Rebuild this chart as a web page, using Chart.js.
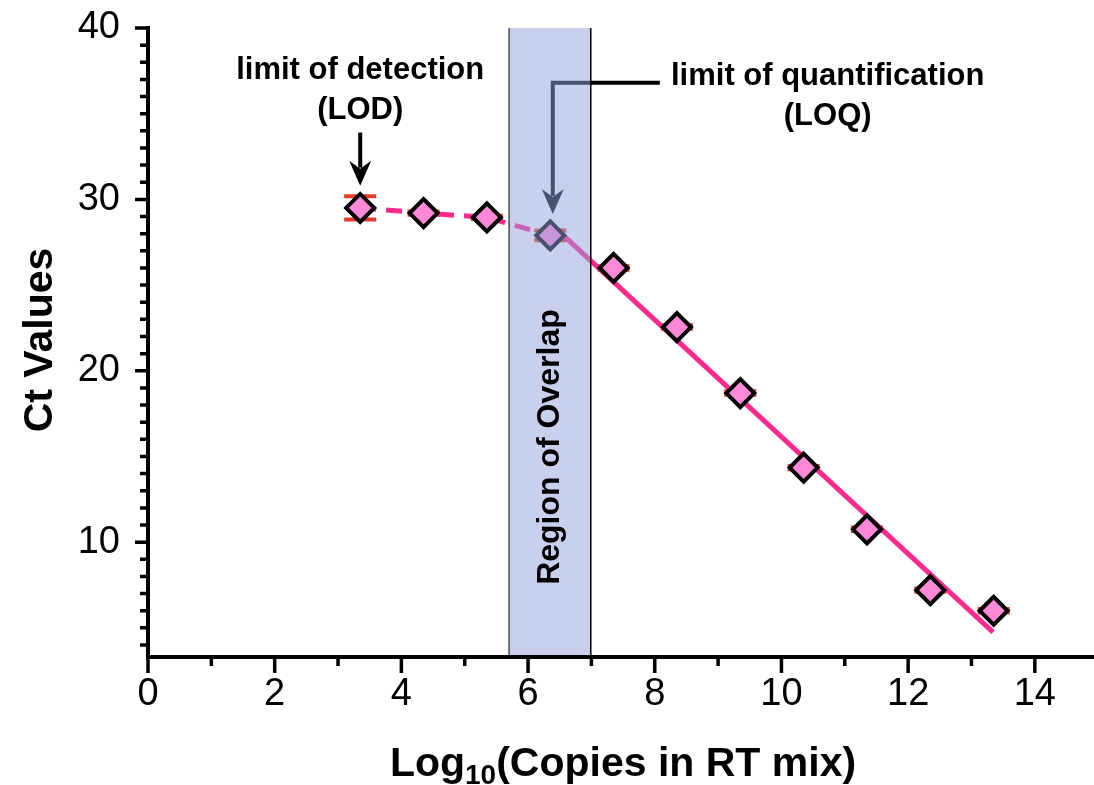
<!DOCTYPE html>
<html>
<head>
<meta charset="utf-8">
<script src="https://cdn.jsdelivr.net/npm/chart.js@4.4.1/dist/chart.umd.min.js"></script>
<style>
  body { margin: 0; background: #fff; }
  #wrap { width: 1094px; height: 785px; }
</style>
</head>
<body>
<div id="wrap"><canvas id="ctChart" width="1094" height="785"></canvas></div>
<script>
// dilution series: log10 copies vs Ct
let logCopies = [3.35, 4.35, 5.35, 6.35, 7.35, 8.35, 9.35, 10.35, 11.35, 12.35, 13.35];
let ctValues = [29.5, 29.2, 28.95, 27.9, 26.0, 22.55, 18.7, 14.35, 10.75, 7.2, 6.0];
let ctErrors = [0.68, 0.1, 0.1, 0.28, 0.1, 0.1, 0.1, 0.1, 0.1, 0.1, 0.1];

// dashed trend below the LOQ and the linear fit above it
let lodX = [3.35, 4.35, 5.35, 6.35];
let lodY = [29.5, 29.2, 28.95, 27.9];
let fitX = [6.35, 13.34];
let fitY = [28.6, 4.75];

let overlapRange = [5.7, 6.99];
let xTicks = [0, 2, 4, 6, 8, 10, 12, 14];
let yTicks = [10, 20, 30, 40];

const FONT = '"Liberation Sans", Arial, Helvetica, sans-serif';
const lineColor = "rgb(255, 42, 140)";
const markerFill = "rgb(255, 136, 216)";
const errColor = "rgb(232, 58, 40)";
const overlapFill = "rgba(146, 162, 221, 0.5)";

function toPoints(xs, ys) {
  return xs.map((x, i) => ({ x: x, y: ys[i] }));
}

function arrowDown(ctx, x, tipY) {
  ctx.beginPath();
  ctx.moveTo(x, tipY);
  ctx.lineTo(x - 11, tipY - 25);
  ctx.lineTo(x, tipY - 17);
  ctx.lineTo(x + 11, tipY - 25);
  ctx.closePath();
  ctx.fill();
}

const decor = {
  id: "decor",
  beforeDatasetsDraw(chart) {
    const { ctx, scales: { x, y } } = chart;
    ctx.save();
    ctx.strokeStyle = errColor;
    ctx.lineWidth = 4;
    logCopies.forEach((lx, i) => {
      let px = x.getPixelForValue(lx);
      let top = y.getPixelForValue(ctValues[i] + ctErrors[i]);
      let bot = y.getPixelForValue(ctValues[i] - ctErrors[i]);
      ctx.beginPath();
      ctx.moveTo(px, top);
      ctx.lineTo(px, bot);
      ctx.moveTo(px - 16, top);
      ctx.lineTo(px + 16, top);
      ctx.moveTo(px - 16, bot);
      ctx.lineTo(px + 16, bot);
      ctx.stroke();
    });
    ctx.restore();
  },
  afterDatasetsDraw(chart) {
    const { ctx, chartArea, scales: { x, y } } = chart;
    ctx.save();

    // LOD arrow
    ctx.fillStyle = "#000";
    ctx.strokeStyle = "#000";
    ctx.lineWidth = 4;
    let lodPx = x.getPixelForValue(logCopies[0]);
    let lodTip = y.getPixelForValue(30.8);
    ctx.beginPath();
    ctx.moveTo(lodPx, y.getPixelForValue(33.9));
    ctx.lineTo(lodPx, lodTip - 18);
    ctx.stroke();
    arrowDown(ctx, lodPx, lodTip);

    // LOQ elbow arrow
    let loqPx = x.getPixelForValue(6.39);
    let loqTip = y.getPixelForValue(29.15);
    let loqTop = y.getPixelForValue(36.8);
    ctx.beginPath();
    ctx.moveTo(x.getPixelForValue(8.08), loqTop);
    ctx.lineTo(loqPx, loqTop);
    ctx.lineTo(loqPx, loqTip - 18);
    ctx.stroke();
    arrowDown(ctx, loqPx, loqTip);

    // shaded overlap band
    let x0 = x.getPixelForValue(overlapRange[0]);
    let x1 = x.getPixelForValue(overlapRange[1]);
    ctx.fillStyle = overlapFill;
    ctx.fillRect(x0, chartArea.top, x1 - x0, chartArea.bottom - chartArea.top);
    ctx.lineWidth = 2;
    ctx.strokeStyle = "rgba(60, 60, 70, 0.7)";
    ctx.beginPath();
    ctx.moveTo(x0, chartArea.top);
    ctx.lineTo(x0, chartArea.bottom);
    ctx.stroke();
    ctx.lineWidth = 1.5;
    ctx.strokeStyle = "#000";
    ctx.beginPath();
    ctx.moveTo(x1, chartArea.top);
    ctx.lineTo(x1, chartArea.bottom);
    ctx.stroke();

    ctx.fillStyle = "#000";
    ctx.textAlign = "center";
    ctx.textBaseline = "middle";
    ctx.font = "bold 32px " + FONT;
    ctx.save();
    ctx.translate((x0 + x1) / 2, y.getPixelForValue(15.55));
    ctx.rotate(-Math.PI / 2);
    ctx.fillText("Region of Overlap", 0, 0);
    ctx.restore();

    ctx.font = "bold 31px " + FONT;
    ctx.fillText("limit of detection", lodPx, y.getPixelForValue(37.55));
    ctx.fillText("(LOD)", lodPx, y.getPixelForValue(35.2));
    ctx.fillText("limit of quantification", x.getPixelForValue(10.73), y.getPixelForValue(37.15));
    ctx.fillText("(LOQ)", x.getPixelForValue(10.73), y.getPixelForValue(34.85));
    ctx.restore();
  },
  afterDraw(chart) {
    const { ctx, chartArea, scales: { x, y } } = chart;
    ctx.save();
    ctx.strokeStyle = "#000";
    ctx.fillStyle = "#000";

    // axis lines
    ctx.lineWidth = 4;
    ctx.beginPath();
    ctx.moveTo(chartArea.left, chartArea.top - 2);
    ctx.lineTo(chartArea.left, chartArea.bottom);
    ctx.lineTo(chart.width, chartArea.bottom);
    ctx.stroke();

    // tick marks, majors longer than minors
    ctx.lineWidth = 3.5;
    ctx.beginPath();
    for (let v = Math.ceil(y.min); v <= y.max; v++) {
      let py = y.getPixelForValue(v);
      let len = v % 10 === 0 ? 13 : 8;
      ctx.moveTo(chartArea.left - len, py);
      ctx.lineTo(chartArea.left, py);
    }
    for (let v = 0; v <= 14; v++) {
      let px = x.getPixelForValue(v);
      let len = v % 2 === 0 ? 16 : 9;
      ctx.moveTo(px, chartArea.bottom);
      ctx.lineTo(px, chartArea.bottom + len);
    }
    ctx.stroke();

    // axis titles
    ctx.font = "bold 41px " + FONT;
    ctx.textBaseline = "alphabetic";
    ctx.save();
    ctx.translate(52, 340);
    ctx.rotate(-Math.PI / 2);
    ctx.textAlign = "center";
    ctx.fillText("Ct Values", 0, 0);
    ctx.restore();

    let partA = "Log";
    let sub = "10";
    let partB = "(Copies in RT mix)";
    ctx.font = "bold 41px " + FONT;
    let wA = ctx.measureText(partA).width;
    let wB = ctx.measureText(partB).width;
    ctx.font = "bold 28px " + FONT;
    let wS = ctx.measureText(sub).width;
    let startX = 623 - (wA + wS + wB) / 2;
    ctx.textAlign = "left";
    ctx.font = "bold 41px " + FONT;
    ctx.fillText(partA, startX, 776);
    ctx.fillText(partB, startX + wA + wS, 776);
    ctx.font = "bold 28px " + FONT;
    ctx.fillText(sub, startX + wA, 784);
    ctx.restore();
  }
};

new Chart(document.getElementById("ctChart"), {
  type: "scatter",
  data: {
    datasets: [
      {
        label: "Ct",
        data: toPoints(logCopies, ctValues),
        showLine: false,
        pointStyle: "rectRot",
        pointRadius: 14,
        pointHoverRadius: 14,
        pointBackgroundColor: markerFill,
        pointBorderColor: "#000",
        pointBorderWidth: 4,
        order: 0,
      },
      {
        label: "below LOQ",
        data: toPoints(lodX, lodY),
        showLine: true,
        borderColor: lineColor,
        borderWidth: 5,
        borderDash: [16, 10],
        pointRadius: 0,
        order: 1,
      },
      {
        label: "fit",
        data: toPoints(fitX, fitY),
        showLine: true,
        borderColor: lineColor,
        borderWidth: 5,
        pointRadius: 0,
        order: 2,
      },
    ],
  },
  options: {
    responsive: false,
    animation: false,
    events: [],
    layout: { padding: { top: 28, right: 2, left: 0, bottom: 0 } },
    plugins: { legend: { display: false }, tooltip: { enabled: false } },
    scales: {
      x: {
        type: "linear",
        min: 0,
        max: 14.65,
        afterBuildTicks: (s) => { s.ticks = xTicks.map((v) => ({ value: v })); },
        afterFit: (s) => { s.height = 128; s.paddingLeft = 0; s.paddingRight = 0; },
        grid: { display: false, drawTicks: false },
        border: { display: false },
        ticks: { color: "#000", padding: 15, maxRotation: 0, font: { family: FONT, size: 38 } },
      },
      y: {
        type: "linear",
        min: 3.3,
        max: 40,
        afterBuildTicks: (s) => { s.ticks = yTicks.map((v) => ({ value: v })); },
        afterFit: (s) => { s.width = 148; s.paddingTop = 0; s.paddingBottom = 0; },
        grid: { display: false, drawTicks: false },
        border: { display: false },
        ticks: { color: "#000", padding: 28, font: { family: FONT, size: 38 } },
      },
    },
  },
  plugins: [decor],
});
</script>
</body>
</html>
